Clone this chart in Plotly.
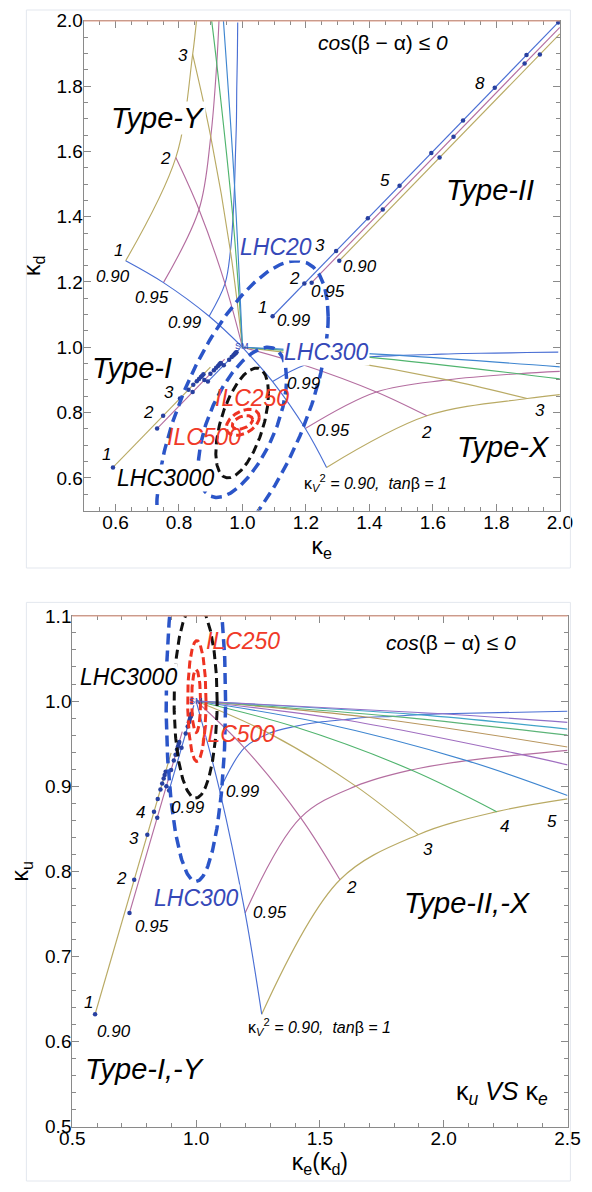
import numpy as np
import plotly.graph_objects as go

# ------------------------------------------------------------------ data
TANB = [1, 2, 3, 4, 5, 6, 7, 8, 9, 10]
SM_X, SM_Y = 1.0, 1.0

# 2HDM grid nodes at integer tanβ: large coupling / small coupling
K090_BIG = [1.265, 1.581, 1.897, 2.214]
K090_SMALL = [0.632, 0.790, 0.843, 0.870]
K095_BIG = [1.198, 1.422, 1.645, 1.869, 2.093, 2.316]
K095_SMALL = [0.751, 0.863, 0.900, 0.919, 0.930, 0.937]
K099_BIG = [1.095, 1.195, 1.295, 1.395, 1.495, 1.595, 1.695, 1.795, 1.895, 1.995]
K099_SMALL = [0.895, 0.945, 0.962, 0.970, 0.975, 0.978, 0.981, 0.982, 0.984, 0.985]

# where curves leave the frame (value of the small coupling at the edge)
TOP_EDGE = 2.0
TOP_EDGE_KV = [0.855, 0.926]          # κV² = 0.90, 0.95
TOP_EDGE_TB = [0.903, 0.940]          # tanβ = 4, 5
BOT_EDGE = 2.5
BOT_EDGE_KV = [0.885, 0.942, 0.988]   # κV² = 0.90, 0.95, 0.99
BOT_EDGE_TB = [0.889, 0.925, 0.946, 0.960, 0.967, 0.975]  # tanβ = 5..10

# Type-I (diagonal, slightly offset) points at tanβ = 1..10
T1_090_X = [0.592, 0.750, 0.803, 0.830, 0.845, 0.856, 0.863, 0.869, 0.873, 0.877]
T1_090_Y = [0.632, 0.790, 0.843, 0.870, 0.885, 0.896, 0.903, 0.909, 0.913, 0.917]
T1_095_X = [0.731, 0.843, 0.880, 0.899, 0.910, 0.917, 0.923, 0.927, 0.930, 0.932]
T1_095_Y = [0.751, 0.863, 0.900, 0.919, 0.930, 0.937, 0.943, 0.947, 0.950, 0.952]
T1_099_X = [0.891, 0.941, 0.958, 0.966, 0.971, 0.974, 0.977, 0.978, 0.980, 0.981]
T1_099_Y = [0.895, 0.945, 0.962, 0.970, 0.975, 0.978, 0.981, 0.982, 0.984, 0.985]
T1_END_X = [0.899, 0.944, 0.991]
T1_END_Y = [0.939, 0.964, 0.995]

# Type-II (top panel) points
T2_090_X = [1.305, 1.621, 1.937]
T2_090_Y = [1.265, 1.581, 1.897]
T2_095_X = [1.218, 1.442, 1.665, 1.889]
T2_095_Y = [1.198, 1.422, 1.645, 1.869]
T2_099_X = [1.095, 1.195, 1.295, 1.395, 1.495, 1.595, 1.695, 1.795, 1.895, 1.995]
T2_099_Y = [1.095, 1.195, 1.295, 1.395, 1.495, 1.595, 1.695, 1.795, 1.895, 1.995]
T2_END_X = [2.0, 2.0, 1.995]
T2_END_Y = [1.960, 1.980, 1.995]

# error ellipses: centre, half widths, correlation
TOP_ELL_NAME = ["LHC20", "LHC300", "LHC3000", "ILC250", "ILC500"]
TOP_ELL_CX = [1.000, 1.000, 0.999, 1.001, 1.000]
TOP_ELL_CY = [0.800, 0.770, 0.768, 0.770, 0.770]
TOP_ELL_SX = [0.270, 0.139, 0.083, 0.052, 0.032]
TOP_ELL_SY = [0.465, 0.230, 0.168, 0.040, 0.021]
TOP_ELL_RHO = [0.63, 0.58, 0.54, 0.40, 0.40]
BOT_ELL_NAME = ["LHC300", "LHC3000", "ILC250", "ILC500"]
BOT_ELL_CX = [0.999, 0.998, 1.003, 1.000]
BOT_ELL_CY = [1.000, 1.000, 1.000, 1.000]
BOT_ELL_SX = [0.120, 0.087, 0.037, 0.018]
BOT_ELL_SY = [0.212, 0.114, 0.071, 0.037]
BOT_ELL_RHO = [0.0, 0.0, 0.0, 0.0]

# ------------------------------------------------------------------ style
FONT = "Liberation Sans, Arial, sans-serif"
FAN_COLORS = ["#4a6fd4", "#b46ea0", "#b9aa64", "#50b46e", "#3f86d0",
              "#a06ec0", "#b8965e", "#5cb478", "#40a4c8", "#9070c8"]
KV_COLORS = [FAN_COLORS[2], FAN_COLORS[1], FAN_COLORS[0]]   # 0.90, 0.95, 0.99
DOT_COLOR = "#2840a0"
ELL_STYLE = {"LHC20": ("#2b55c8", 3.5, "11px,6px"),
             "LHC300": ("#2b55c8", 3.5, "11px,6px"),
             "LHC3000": ("#111111", 3.0, "9px,5px"),
             "ILC250": ("#ee3322", 3.0, "8px,4px"),
             "ILC500": ("#ee3322", 3.0, "8px,4px")}
AX_COLOR = "#8a8a8a"
TOP_EDGE_COLOR = "#dfa08c"

fig = go.Figure()


def line(xs, ys, color, xa, ya, width=1.15, shape="spline"):
    fig.add_trace(go.Scatter(x=xs, y=ys, mode="lines",
                             line=dict(color=color, width=width, shape=shape),
                             xaxis=xa, yaxis=ya, hoverinfo="skip", showlegend=False))


def dots(xs, ys, xa, ya):
    fig.add_trace(go.Scatter(x=xs, y=ys, mode="markers",
                             marker=dict(color=DOT_COLOR, size=4.5),
                             xaxis=xa, yaxis=ya, hoverinfo="skip", showlegend=False))


def grid(big_small_pairs, swap, xa, ya):
    for (big, small, col) in big_small_pairs:
        if swap:
            line(small, big, col, xa, ya)
        else:
            line(big, small, col, xa, ya)


# ---------------- top panel: Type-X (κe large) and Type-Y (κd large)
top_curves = [
    (K090_BIG[:3] + [TOP_EDGE], K090_SMALL[:3] + [TOP_EDGE_KV[0]], KV_COLORS[0]),
    (K095_BIG[:4] + [TOP_EDGE], K095_SMALL[:4] + [TOP_EDGE_KV[1]], KV_COLORS[1]),
    (K099_BIG, K099_SMALL, KV_COLORS[2]),
]
for i in range(3):
    top_curves.append(([SM_X, K099_BIG[i], K095_BIG[i], K090_BIG[i]],
                       [SM_Y, K099_SMALL[i], K095_SMALL[i], K090_SMALL[i]], FAN_COLORS[i]))
top_curves.append(([SM_X, K099_BIG[3], K095_BIG[3], TOP_EDGE],
                   [SM_Y, K099_SMALL[3], K095_SMALL[3], TOP_EDGE_TB[0]], FAN_COLORS[3]))
top_curves.append(([SM_X, K099_BIG[4], TOP_EDGE],
                   [SM_Y, K099_SMALL[4], TOP_EDGE_TB[1]], FAN_COLORS[4]))
grid(top_curves, False, "x", "y")
grid(top_curves, True, "x", "y")

# ---------------- bottom panel: Type-II,-X
bot_curves = [
    (K090_BIG + [BOT_EDGE], K090_SMALL + [BOT_EDGE_KV[0]], KV_COLORS[0]),
    (K095_BIG + [BOT_EDGE], K095_SMALL + [BOT_EDGE_KV[1]], KV_COLORS[1]),
    (K099_BIG + [BOT_EDGE], K099_SMALL + [BOT_EDGE_KV[2]], KV_COLORS[2]),
]
for i in range(4):
    bot_curves.append(([SM_X, K099_BIG[i], K095_BIG[i], K090_BIG[i]],
                       [SM_Y, K099_SMALL[i], K095_SMALL[i], K090_SMALL[i]], FAN_COLORS[i]))
for i in (4, 5):
    bot_curves.append(([SM_X, K099_BIG[i], K095_BIG[i], BOT_EDGE],
                       [SM_Y, K099_SMALL[i], K095_SMALL[i], BOT_EDGE_TB[i - 4]], FAN_COLORS[i]))
for i in (6, 7, 8, 9):
    bot_curves.append(([SM_X, K099_BIG[i], BOT_EDGE],
                       [SM_Y, K099_SMALL[i], BOT_EDGE_TB[i - 4]], FAN_COLORS[i]))
grid(bot_curves, False, "x2", "y2")

# ---------------- Type-I (both panels) and Type-II (top)
t1 = [(T1_090_X, T1_090_Y), (T1_095_X, T1_095_Y), (T1_099_X, T1_099_Y)]
t2 = [(T2_090_X, T2_090_Y), (T2_095_X, T2_095_Y), (T2_099_X, T2_099_Y)]
for xa, ya in (("x", "y"), ("x2", "y2")):
    for k, (xs, ys) in enumerate(t1):
        line([xs[0], T1_END_X[k]], [ys[0], T1_END_Y[k]], KV_COLORS[k], xa, ya, shape="linear")
for k, (xs, ys) in enumerate(t2):
    line([xs[0], T2_END_X[k]], [ys[0], T2_END_Y[k]], KV_COLORS[k], "x", "y", shape="linear")
for xa, ya in (("x", "y"), ("x2", "y2")):
    for xs, ys in t1:
        dots(xs, ys, xa, ya)
for xs, ys in t2:
    dots(xs, ys, "x", "y")

# ---------------- ellipses
theta = np.linspace(0, 2 * np.pi, 241)


def ellipse(cx, cy, sx, sy, rho, name, xa, ya):
    col, w, dash = ELL_STYLE[name]
    ex = cx + sx * np.cos(theta)
    ey = cy + sy * (rho * np.cos(theta) + np.sqrt(1 - rho ** 2) * np.sin(theta))
    fig.add_trace(go.Scatter(x=ex, y=ey, mode="lines",
                             line=dict(color=col, width=w, dash=dash),
                             xaxis=xa, yaxis=ya, hoverinfo="skip", showlegend=False))


for i, nm in enumerate(TOP_ELL_NAME):
    ellipse(TOP_ELL_CX[i], TOP_ELL_CY[i], TOP_ELL_SX[i], TOP_ELL_SY[i], TOP_ELL_RHO[i], nm, "x", "y")
for i, nm in enumerate(BOT_ELL_NAME):
    ellipse(BOT_ELL_CX[i], BOT_ELL_CY[i], BOT_ELL_SX[i], BOT_ELL_SY[i], BOT_ELL_RHO[i], nm, "x2", "y2")

# ------------------------------------------------------------------ annotations
annots = []


def ann(text, x, y, size, xa, ya, color="black", bg=None):
    d = dict(text=text, x=x, y=y, xref=xa, yref=ya, showarrow=False,
             font=dict(family=FONT, size=size, color=color), borderpad=0)
    if bg:
        d["bgcolor"] = bg
    annots.append(d)


BLUE_TXT = "#3548b8"
RED_TXT = "#f03a28"
BIG = 29
ELL = 23
NUM = 17
# top
for t, x, y in [("Type-Y", 0.733, 1.702), ("Type-II", 1.78, 1.482),
                ("Type-I", 0.651, 0.937), ("Type-X", 1.824, 0.695)]:
    ann("<i>%s</i>" % t, x, y, BIG, "x", "y", bg="white")
ann("<i>cos</i>(β − α) ≤ <i>0</i>", 1.443, 1.933, 21, "x", "y")
ann("<i>LHC20</i>", 1.107, 1.306, ELL, "x", "y", BLUE_TXT, "white")
ann("<i>LHC300</i>", 1.265, 0.986, ELL, "x", "y", BLUE_TXT, "white")
ann("<i>LHC3000</i>", 0.758, 0.600, ELL, "x", "y", "black", "white")
ann("<i>ILC250</i>", 1.03, 0.845, ELL, "x", "y", RED_TXT)
ann("<i>ILC500</i>", 0.879, 0.725, ELL, "x", "y", RED_TXT)
for t, x, y in [("8", 1.749, 1.808), ("5", 1.45, 1.512), ("3", 1.245, 1.311),
                ("0.90", 1.37, 1.246), ("2", 1.165, 1.211), ("0.95", 1.27, 1.171),
                ("1", 1.064, 1.121), ("0.99", 1.162, 1.081),
                ("3", 0.814, 1.893), ("2", 0.757, 1.577), ("1", 0.608, 1.296),
                ("0.90", 0.593, 1.216), ("0.95", 0.714, 1.151), ("0.99", 0.819, 1.076),
                ("3", 0.769, 0.862), ("2", 0.704, 0.80), ("1", 0.573, 0.67),
                ("0.99", 1.195, 0.89), ("0.95", 1.285, 0.745), ("2", 1.58, 0.74),
                ("3", 1.937, 0.805)]:
    ann("<i>%s</i>" % t, x, y, NUM, "x", "y")
ann("κ<sub><i>V</i></sub><sup>2</sup><i> = 0.90,  tan</i>β<i> = 1</i>", 1.42, 0.584, 16, "x", "y")
ann("SM", 1.0, 1.005, 9, "x", "y", BLUE_TXT)

# bottom
ann("<i>Type-II,-X</i>", 2.096, 0.763, BIG, "x2", "y2", bg="white")
ann("<i>Type-I,-Y</i>", 0.795, 0.568, BIG, "x2", "y2", bg="white")
ann("κ<sub><i>u</i></sub> <i>VS</i> κ<sub><i>e</i></sub>", 2.235, 0.540, 25, "x2", "y2")
ann("<i>cos</i>(β − α) ≤ <i>0</i>", 2.03, 1.069, 21, "x2", "y2")
ann("κ<sub><i>V</i></sub><sup>2</sup><i> = 0.90,  tan</i>β<i> = 1</i>", 1.50, 0.617, 16, "x2", "y2")
ann("<i>ILC250</i>", 1.19, 1.071, ELL, "x2", "y2", RED_TXT)
ann("<i>LHC3000</i>", 0.725, 1.028, ELL, "x2", "y2", "black", "white")
ann("<i>ILC500</i>", 1.17, 0.961, ELL, "x2", "y2", RED_TXT)
ann("<i>LHC300</i>", 1.003, 0.768, ELL, "x2", "y2", BLUE_TXT, "white")
for t, x, y in [("0.99", 0.966, 0.875), ("0.99", 1.189, 0.894),
                ("4", 0.776, 0.869), ("3", 0.748, 0.838), ("2", 0.698, 0.792),
                ("1", 0.565, 0.646), ("0.90", 0.667, 0.612), ("0.95", 0.82, 0.735),
                ("0.95", 1.30, 0.752), ("2", 1.627, 0.781), ("3", 1.936, 0.825),
                ("4", 2.246, 0.853), ("5", 2.439, 0.858)]:
    ann("<i>%s</i>" % t, x, y, NUM, "x2", "y2")
ann("SM", 1.0, 1.0, 9, "x2", "y2", BLUE_TXT)

# ------------------------------------------------------------------ layout
W, H = 592, 1192
TOP_X = [74 / W, 572 / W]
TOP_Y = [1 - 509.5 / H, 1 - 11 / H]
BOT_X = [62 / W, 580 / W]
BOT_Y = [1 - 1136.7 / H, 1 - 616.7 / H]


def axis(domain, rng, dtick, minor_dtick, title, anchor, standoff, lab_off):
    return dict(domain=domain, range=rng, anchor=anchor, showgrid=False, zeroline=False,
                showline=True, linecolor=AX_COLOR, linewidth=1, mirror="allticks",
                ticks="inside", ticklen=7, tickwidth=1, tickcolor=AX_COLOR,
                tickmode="linear", tick0=0, dtick=dtick, tickformat=".1f",
                ticklabelstandoff=lab_off,
                tickfont=dict(family=FONT, size=19, color="black"),
                minor=dict(ticks="inside", ticklen=4, tickcolor=AX_COLOR,
                           tick0=0, dtick=minor_dtick, showgrid=False),
                title=dict(text=title, standoff=standoff,
                           font=dict(family=FONT, size=23, color="black")))


shapes = [
    dict(type="line", xref="paper", yref="paper", x0=TOP_X[0], x1=TOP_X[1],
         y0=TOP_Y[1], y1=TOP_Y[1], line=dict(color=TOP_EDGE_COLOR, width=1.2)),
    dict(type="line", xref="paper", yref="paper", x0=BOT_X[0], x1=BOT_X[1],
         y0=BOT_Y[1], y1=BOT_Y[1], line=dict(color=TOP_EDGE_COLOR, width=1.2)),
    dict(type="rect", xref="paper", yref="paper", x0=14 / W, x1=583 / W,
         y0=1 - 568 / H, y1=1.0, line=dict(color="#e3e7ee", width=1)),
    dict(type="rect", xref="paper", yref="paper", x0=14 / W, x1=583 / W,
         y0=0.0, y1=1 - 603 / H, line=dict(color="#e3e7ee", width=1)),
]

fig.update_layout(
    width=W, height=H, autosize=False,
    margin=dict(l=0, r=0, t=0, b=0),
    paper_bgcolor="white", plot_bgcolor="white",
    showlegend=False,
    xaxis=axis(TOP_X, [0.4999, 2.0001], 0.2, 0.05, "κ<sub>e</sub>", "y", 2, -5),
    yaxis=axis(TOP_Y, [0.4999, 2.0001], 0.2, 0.05, "κ<sub>d</sub>", "x", 9, -4),
    xaxis2=axis(BOT_X, [0.4999, 2.5001], 0.5, 0.1, "κ<sub>e</sub>(κ<sub>d</sub>)", "y2", 2, -5),
    yaxis2=axis(BOT_Y, [0.4999, 1.1001], 0.1, 0.02, "κ<sub>u</sub>", "x2", 9, -4),
    annotations=annots,
    shapes=shapes,
)

fig.write_html("out.html",
               config={"displayModeBar": False, "staticPlot": True},
               post_script="document.body.style.margin='0';document.body.style.overflow='hidden';")
